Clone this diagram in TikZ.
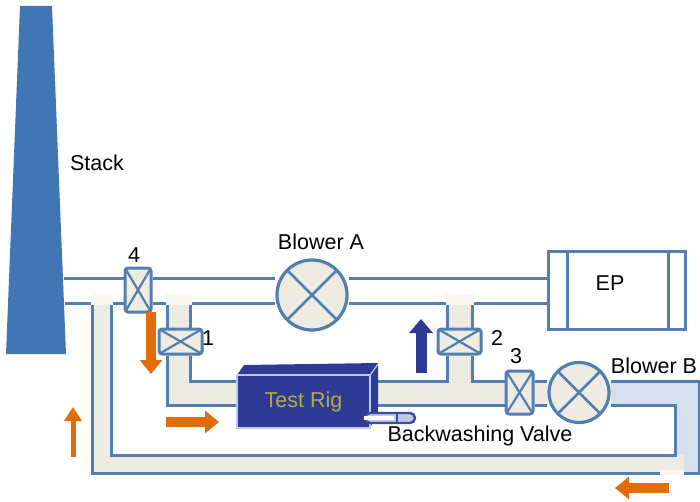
\documentclass[tikz,border=0pt]{standalone}
\usepackage{fontspec}
\setmainfont{Liberation Sans}
\usepackage{xcolor}
\definecolor{stackblue}{RGB}{65,117,182}
\definecolor{pipeblue}{RGB}{82,126,176}
\definecolor{pipecream}{RGB}{238,236,226}
\definecolor{capcream}{RGB}{248,246,240}
\definecolor{hotblue}{RGB}{214,224,238}
\definecolor{rigblue}{RGB}{46,58,148}
\definecolor{rigedge}{RGB}{190,202,226}
\definecolor{rigtext}{RGB}{178,174,60}
\definecolor{floworange}{RGB}{227,108,10}
\usetikzlibrary{positioning,arrows.meta,backgrounds}
\tikzset{
  pipe/.style    ={draw=pipeblue,line width=3pt},
  label/.style   ={font=\fontsize{21.5}{24}\selectfont,inner sep=0pt},
  valve/.style   ={rectangle,rounded corners=3pt,draw=pipeblue,fill=pipecream,line width=3pt,
                   inner sep=0pt,path picture={
                   \draw[pipeblue,line width=2.2pt] (path picture bounding box.north west) -- (path picture bounding box.south east);
                   \draw[pipeblue,line width=2.2pt] (path picture bounding box.south west) -- (path picture bounding box.north east);}},
  blower/.style  ={circle,draw=pipeblue,fill=pipecream,line width=3.2pt,inner sep=0pt,path picture={
                   \draw[pipeblue,line width=2.8pt] (path picture bounding box.north west) -- (path picture bounding box.south east);
                   \draw[pipeblue,line width=2.8pt] (path picture bounding box.south west) -- (path picture bounding box.north east);}},
  flow/.style    ={draw=floworange,line width=10pt,-{Triangle[length=14pt,width=22pt]}},
  thinflow/.style={draw=floworange,line width=5pt,-{Triangle[length=14pt,width=17pt]}},
  backflow/.style={draw=rigblue,line width=11pt,-{Triangle[length=14pt,width=23pt]}},
}
\begin{document}
\begin{tikzpicture}[x=1pt,y=-1pt]
  \useasboundingbox (0,0) rectangle (700,502);
  % stack
  \fill[stackblue] (20,6) -- (52,6) -- (66,354) -- (6,354) -- cycle;
  \coordinate (stacktop) at (64,278);
  \coordinate (stacklow) at (65,303);
  % devices
  \node[valve,minimum width=26pt,minimum height=44pt] (valve4) at (138,290) {};
  \node[valve,minimum width=43pt,minimum height=25pt] (valve1) at (180.5,341.5) {};
  \node[valve,minimum width=43pt,minimum height=25pt] (valve2) at (459.5,341.5) {};
  \node[valve,minimum width=27pt,minimum height=43pt] (valve3) at (519.5,392.5) {};
  \node[blower,minimum size=70pt] (blowerA) at (312,295) {};
  \node[blower,minimum size=60pt] (blowerB) at (579,392.5) {};
  \node[draw=pipeblue,line width=3pt,minimum width=137pt,minimum height=77pt,inner sep=0pt] (ep) at (616.5,290.5) {};
  \draw[pipe] (567,252) -- (567,329);
  \draw[pipe] (668,252) -- (668,329);
  % test rig
  \fill[rigblue] (237,375) -- (244,365) -- (378,363) -- (378,412) -- (370,428) -- cycle;
  \node[fill=rigblue,draw=rigedge,line width=1.2pt,minimum width=133pt,minimum height=53pt,inner sep=0pt,
        font=\fontsize{21.5}{24}\selectfont,text=rigtext] (rig) at (303.5,401.5) {Test Rig};
  \draw[rigedge,line width=1.2pt] (rig.north east) -- (378,364);
  \node[draw=rigblue!70!pipeblue,fill=rigedge,rounded corners=5pt,line width=2.4pt,minimum width=50pt,minimum height=10pt,inner sep=0pt] (washvalve) at (390,418) {};
  \draw[white,line width=3.5pt] (washvalve.west) -- ++(30,0);
  \draw[rigblue!70!pipeblue,line width=2pt] (397,413) -- (397,423);
  % labels
  \node[label] (stacklabel) at (97,163) {Stack};
  \node[label] (blowerAlabel) at (321,242) {Blower A};
  \node[label] (blowerBlabel) at (654,366) {Blower B};
  \node[label] (eplabel) at (610,283) {EP};
  \node[label] (washlabel) at (480,436) {Backwashing Valve};
  \node[label] (label4) at (134,255) {4};
  \node[label] (label1) at (208,338) {1};
  \node[label] (label2) at (497,338) {2};
  \node[label] (label3) at (516,356) {3};
  % flow arrows
  \coordinate (fourdown) at (151,312);
  \coordinate (fourtip) at (151,374);
  \coordinate (riginlet) at (166,422);
  \coordinate (rigtip) at (219,422);
  \coordinate (backfoot) at (421,373);
  \coordinate (backtip) at (421,319);
  \coordinate (returnfoot) at (73,457);
  \coordinate (returntip) at (73,407);
  \coordinate (bluefoot) at (669,488);
  \coordinate (bluetip) at (615,488);
  \draw[flow] (fourdown) -- (fourtip);
  \draw[flow] (riginlet) -- (rigtip);
  \draw[thinflow] (returnfoot) -- (returntip);
  \draw[flow] (bluefoot) -- (bluetip);
  \draw[backflow] (backfoot) -- (backtip);
  % pipes behind everything
  \begin{scope}[on background layer]
    \fill[hotblue] (blowerB.east |- 0,381) -- (699,381) -- (699,473) -- (675,473) -- (675,405) -- (blowerB.east |- 0,405) -- cycle;
    \fill[pipecream] (92,303) -- (111,303) -- (111,455) -- (684,455) -- (684,473) -- (92,473) -- cycle;
    \fill[pipecream] (167,303) -- (190,303) -- (190,381) -- (rig.west |- 0,381) -- (rig.west |- 0,405) -- (167,405) -- cycle;
    \fill[pipecream] (447,303) -- (472,303) -- (472,381) -- (blowerB.west |- 0,381) -- (blowerB.west |- 0,405) -- (rig.east |- 0,405) -- (rig.east |- 0,381) -- (447,381) -- cycle;
    % upper duct
    \draw[pipe] (stacktop) -- (valve4.west |- stacktop);
    \draw[pipe] (valve4.east |- stacktop) -- (blowerA.west |- stacktop);
    \draw[pipe] (blowerA.east |- stacktop) -- (ep.west |- stacktop);
    % lower duct
    \draw[pipe] (stacklow) -- (92,303) -- (92,473) -- (699,473) -- (699,381) -- (blowerB.east |- 0,381);
    \draw[pipe] (111,303) -- (valve4.west |- 0,303);
    \draw[pipe] (111,303) -- (111,455) -- (675,455) -- (675,405) -- (blowerB.east |- 0,405);
    \draw[pipe] (valve4.east |- 0,303) -- (167,303) -- (valve1.north -| 167,0);
    \draw[pipe] (valve1.south -| 167,0) -- (167,405) -- (rig.west |- 0,405);
    \draw[pipe] (190,303) -- (blowerA.west |- 0,303);
    \draw[pipe] (190,303) -- (valve1.north -| 190,0);
    \draw[pipe] (valve1.south -| 190,0) -- (190,381) -- (rig.west |- 0,381);
    \draw[pipe] (blowerA.east |- 0,303) -- (447,303) -- (valve2.north -| 447,0);
    \draw[pipe] (472,303) -- (ep.west |- 0,303);
    \draw[pipe] (472,303) -- (valve2.north -| 472,0);
    \draw[pipe] (valve2.south -| 447,0) -- (447,381) -- (378,381);
    \draw[pipe] (valve2.south -| 472,0) -- (472,381) -- (valve3.west |- 0,381);
    \draw[pipe] (378,405) -- (valve3.west |- 0,405);
    \draw[pipe] (valve3.east |- 0,381) -- (blowerB.west |- 0,381);
    \draw[pipe] (valve3.east |- 0,405) -- (blowerB.west |- 0,405);
    % pale mouths of the branches
    \fill[capcream] (90.5,294) rectangle (112.5,305);
    \fill[capcream] (165.5,294) rectangle (191.5,305);
    \fill[capcream] (445.5,294) rectangle (473.5,305);
    \fill[capcream] (660,470) rectangle (684,475);
  \end{scope}
\end{tikzpicture}
\end{document}
